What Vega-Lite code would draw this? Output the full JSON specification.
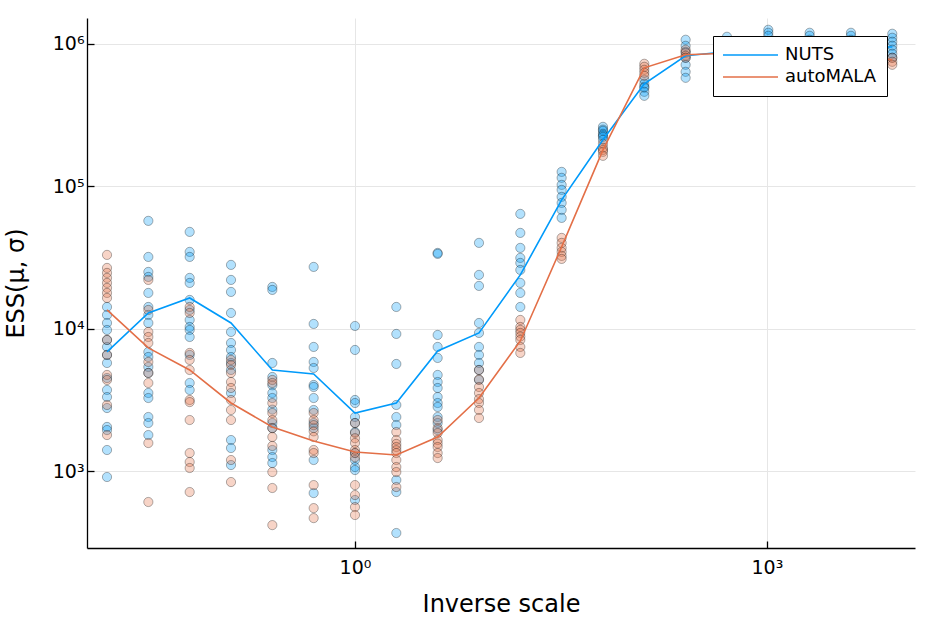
{
  "$schema": "https://vega.github.io/schema/vega-lite/v6.json",
  "autosize": {"type": "none"},
  "padding": {"left": 87, "top": 18, "right": 19, "bottom": 75},
  "width": 828,
  "height": 530,
  "background": "white",
  "config": {
    "view": {"stroke": null},
    "font": "DejaVu Sans",
    "axis": {
      "domainColor": "black",
      "domainWidth": 1.3,
      "tickColor": "black",
      "tickWidth": 1.3,
      "tickSize": -7,
      "gridColor": "#e6e6e6",
      "gridWidth": 1,
      "labelFont": "DejaVu Sans",
      "labelFontSize": 19,
      "labelColor": "black",
      "titleFont": "DejaVu Sans",
      "titleFontSize": 24,
      "titleFontWeight": "normal",
      "titleColor": "black"
    }
  },
  "datasets": {
    "runs": [
      {"scale": 0.015625, "sampler": "NUTS", "ess": 14200}, {"scale": 0.015625, "sampler": "NUTS", "ess": 12480}, {"scale": 0.015625, "sampler": "NUTS", "ess": 10960}, {"scale": 0.015625, "sampler": "NUTS", "ess": 9790}, {"scale": 0.015625, "sampler": "NUTS", "ess": 8330}, {"scale": 0.015625, "sampler": "NUTS", "ess": 7440}, {"scale": 0.015625, "sampler": "NUTS", "ess": 6535}, {"scale": 0.015625, "sampler": "NUTS", "ess": 5740}, {"scale": 0.015625, "sampler": "NUTS", "ess": 4500}, {"scale": 0.015625, "sampler": "NUTS", "ess": 3710}, {"scale": 0.015625, "sampler": "NUTS", "ess": 3310}, {"scale": 0.015625, "sampler": "NUTS", "ess": 2770}, {"scale": 0.015625, "sampler": "NUTS", "ess": 2040}, {"scale": 0.015625, "sampler": "NUTS", "ess": 1940}, {"scale": 0.015625, "sampler": "NUTS", "ess": 1405}, {"scale": 0.015625, "sampler": "NUTS", "ess": 908},
      {"scale": 0.015625, "sampler": "autoMALA", "ess": 32960}, {"scale": 0.015625, "sampler": "autoMALA", "ess": 26700}, {"scale": 0.015625, "sampler": "autoMALA", "ess": 24630}, {"scale": 0.015625, "sampler": "autoMALA", "ess": 22720}, {"scale": 0.015625, "sampler": "autoMALA", "ess": 20950}, {"scale": 0.015625, "sampler": "autoMALA", "ess": 19320}, {"scale": 0.015625, "sampler": "autoMALA", "ess": 17820}, {"scale": 0.015625, "sampler": "autoMALA", "ess": 16430}, {"scale": 0.015625, "sampler": "autoMALA", "ess": 8330}, {"scale": 0.015625, "sampler": "autoMALA", "ess": 6535}, {"scale": 0.015625, "sampler": "autoMALA", "ess": 4730}, {"scale": 0.015625, "sampler": "autoMALA", "ess": 4360}, {"scale": 0.015625, "sampler": "autoMALA", "ess": 2910}, {"scale": 0.015625, "sampler": "autoMALA", "ess": 1790},

      {"scale": 0.03125, "sampler": "NUTS", "ess": 57150}, {"scale": 0.03125, "sampler": "NUTS", "ess": 31900}, {"scale": 0.03125, "sampler": "NUTS", "ess": 25030}, {"scale": 0.03125, "sampler": "NUTS", "ess": 23090}, {"scale": 0.03125, "sampler": "NUTS", "ess": 17820}, {"scale": 0.03125, "sampler": "NUTS", "ess": 14200}, {"scale": 0.03125, "sampler": "NUTS", "ess": 12480}, {"scale": 0.03125, "sampler": "NUTS", "ess": 10960}, {"scale": 0.03125, "sampler": "NUTS", "ess": 6860}, {"scale": 0.03125, "sampler": "NUTS", "ess": 6325}, {"scale": 0.03125, "sampler": "NUTS", "ess": 5380}, {"scale": 0.03125, "sampler": "NUTS", "ess": 4885}, {"scale": 0.03125, "sampler": "NUTS", "ess": 3533}, {"scale": 0.03125, "sampler": "NUTS", "ess": 3258}, {"scale": 0.03125, "sampler": "NUTS", "ess": 2396}, {"scale": 0.03125, "sampler": "NUTS", "ess": 2174}, {"scale": 0.03125, "sampler": "NUTS", "ess": 1790},
      {"scale": 0.03125, "sampler": "autoMALA", "ess": 21990}, {"scale": 0.03125, "sampler": "autoMALA", "ess": 13530}, {"scale": 0.03125, "sampler": "autoMALA", "ess": 9480}, {"scale": 0.03125, "sampler": "autoMALA", "ess": 8740}, {"scale": 0.03125, "sampler": "autoMALA", "ess": 7935}, {"scale": 0.03125, "sampler": "autoMALA", "ess": 5835}, {"scale": 0.03125, "sampler": "autoMALA", "ess": 4885}, {"scale": 0.03125, "sampler": "autoMALA", "ess": 4153}, {"scale": 0.03125, "sampler": "autoMALA", "ess": 1573}, {"scale": 0.03125, "sampler": "autoMALA", "ess": 606},

      {"scale": 0.0625, "sampler": "NUTS", "ess": 47820}, {"scale": 0.0625, "sampler": "NUTS", "ess": 34600}, {"scale": 0.0625, "sampler": "NUTS", "ess": 31900}, {"scale": 0.0625, "sampler": "NUTS", "ess": 22720}, {"scale": 0.0625, "sampler": "NUTS", "ess": 20950}, {"scale": 0.0625, "sampler": "NUTS", "ess": 15910}, {"scale": 0.0625, "sampler": "NUTS", "ess": 13530}, {"scale": 0.0625, "sampler": "NUTS", "ess": 11510}, {"scale": 0.0625, "sampler": "NUTS", "ess": 10280}, {"scale": 0.0625, "sampler": "NUTS", "ess": 9790}, {"scale": 0.0625, "sampler": "NUTS", "ess": 8740}, {"scale": 0.0625, "sampler": "NUTS", "ess": 6535}, {"scale": 0.0625, "sampler": "NUTS", "ess": 4153}, {"scale": 0.0625, "sampler": "NUTS", "ess": 3710},
      {"scale": 0.0625, "sampler": "autoMALA", "ess": 14200}, {"scale": 0.0625, "sampler": "autoMALA", "ess": 12890}, {"scale": 0.0625, "sampler": "autoMALA", "ess": 6750}, {"scale": 0.0625, "sampler": "autoMALA", "ess": 6030}, {"scale": 0.0625, "sampler": "autoMALA", "ess": 5125}, {"scale": 0.0625, "sampler": "autoMALA", "ess": 3155}, {"scale": 0.0625, "sampler": "autoMALA", "ess": 3050}, {"scale": 0.0625, "sampler": "autoMALA", "ess": 2282}, {"scale": 0.0625, "sampler": "autoMALA", "ess": 1338}, {"scale": 0.0625, "sampler": "autoMALA", "ess": 1157}, {"scale": 0.0625, "sampler": "autoMALA", "ess": 1050}, {"scale": 0.0625, "sampler": "autoMALA", "ess": 712},

      {"scale": 0.125, "sampler": "NUTS", "ess": 28040}, {"scale": 0.125, "sampler": "NUTS", "ess": 21990}, {"scale": 0.125, "sampler": "NUTS", "ess": 18110}, {"scale": 0.125, "sampler": "NUTS", "ess": 12890}, {"scale": 0.125, "sampler": "NUTS", "ess": 9480}, {"scale": 0.125, "sampler": "NUTS", "ess": 7935}, {"scale": 0.125, "sampler": "NUTS", "ess": 7085}, {"scale": 0.125, "sampler": "NUTS", "ess": 6325}, {"scale": 0.125, "sampler": "NUTS", "ess": 5740}, {"scale": 0.125, "sampler": "NUTS", "ess": 5125}, {"scale": 0.125, "sampler": "NUTS", "ess": 3533}, {"scale": 0.125, "sampler": "NUTS", "ess": 1651}, {"scale": 0.125, "sampler": "NUTS", "ess": 1451}, {"scale": 0.125, "sampler": "NUTS", "ess": 1102},
      {"scale": 0.125, "sampler": "autoMALA", "ess": 6030}, {"scale": 0.125, "sampler": "autoMALA", "ess": 5557}, {"scale": 0.125, "sampler": "autoMALA", "ess": 4885}, {"scale": 0.125, "sampler": "autoMALA", "ess": 4220}, {"scale": 0.125, "sampler": "autoMALA", "ess": 3831}, {"scale": 0.125, "sampler": "autoMALA", "ess": 3155}, {"scale": 0.125, "sampler": "autoMALA", "ess": 2683}, {"scale": 0.125, "sampler": "autoMALA", "ess": 2282}, {"scale": 0.125, "sampler": "autoMALA", "ess": 1195}, {"scale": 0.125, "sampler": "autoMALA", "ess": 837},

      {"scale": 0.25, "sampler": "NUTS", "ess": 19630}, {"scale": 0.25, "sampler": "NUTS", "ess": 18710}, {"scale": 0.25, "sampler": "NUTS", "ess": 5740}, {"scale": 0.25, "sampler": "NUTS", "ess": 4577}, {"scale": 0.25, "sampler": "NUTS", "ess": 4000}, {"scale": 0.25, "sampler": "NUTS", "ess": 3533}, {"scale": 0.25, "sampler": "NUTS", "ess": 3258}, {"scale": 0.25, "sampler": "NUTS", "ess": 2700}, {"scale": 0.25, "sampler": "NUTS", "ess": 2174}, {"scale": 0.25, "sampler": "NUTS", "ess": 2005}, {"scale": 0.25, "sampler": "NUTS", "ess": 1405}, {"scale": 0.25, "sampler": "NUTS", "ess": 1254}, {"scale": 0.25, "sampler": "NUTS", "ess": 1138},
      {"scale": 0.25, "sampler": "autoMALA", "ess": 4360}, {"scale": 0.25, "sampler": "autoMALA", "ess": 4153}, {"scale": 0.25, "sampler": "autoMALA", "ess": 3000}, {"scale": 0.25, "sampler": "autoMALA", "ess": 2556}, {"scale": 0.25, "sampler": "autoMALA", "ess": 2282}, {"scale": 0.25, "sampler": "autoMALA", "ess": 2000}, {"scale": 0.25, "sampler": "autoMALA", "ess": 1734}, {"scale": 0.25, "sampler": "autoMALA", "ess": 1500}, {"scale": 0.25, "sampler": "autoMALA", "ess": 984}, {"scale": 0.25, "sampler": "autoMALA", "ess": 760}, {"scale": 0.25, "sampler": "autoMALA", "ess": 417},

      {"scale": 0.5, "sampler": "NUTS", "ess": 27140}, {"scale": 0.5, "sampler": "NUTS", "ess": 10790}, {"scale": 0.5, "sampler": "NUTS", "ess": 7440}, {"scale": 0.5, "sampler": "NUTS", "ess": 5835}, {"scale": 0.5, "sampler": "NUTS", "ess": 5293}, {"scale": 0.5, "sampler": "NUTS", "ess": 4022}, {"scale": 0.5, "sampler": "NUTS", "ess": 3893}, {"scale": 0.5, "sampler": "NUTS", "ess": 3258}, {"scale": 0.5, "sampler": "NUTS", "ess": 2683}, {"scale": 0.5, "sampler": "NUTS", "ess": 2174}, {"scale": 0.5, "sampler": "NUTS", "ess": 2005}, {"scale": 0.5, "sampler": "NUTS", "ess": 1195}, {"scale": 0.5, "sampler": "NUTS", "ess": 700},
      {"scale": 0.5, "sampler": "autoMALA", "ess": 2556}, {"scale": 0.5, "sampler": "autoMALA", "ess": 2282}, {"scale": 0.5, "sampler": "autoMALA", "ess": 2100}, {"scale": 0.5, "sampler": "autoMALA", "ess": 1900}, {"scale": 0.5, "sampler": "autoMALA", "ess": 1734}, {"scale": 0.5, "sampler": "autoMALA", "ess": 1405}, {"scale": 0.5, "sampler": "autoMALA", "ess": 1338}, {"scale": 0.5, "sampler": "autoMALA", "ess": 797}, {"scale": 0.5, "sampler": "autoMALA", "ess": 549}, {"scale": 0.5, "sampler": "autoMALA", "ess": 467},

      {"scale": 1, "sampler": "NUTS", "ess": 10440}, {"scale": 1, "sampler": "NUTS", "ess": 7085}, {"scale": 1, "sampler": "NUTS", "ess": 3155}, {"scale": 1, "sampler": "NUTS", "ess": 3005}, {"scale": 1, "sampler": "NUTS", "ess": 2396}, {"scale": 1, "sampler": "NUTS", "ess": 2174}, {"scale": 1, "sampler": "NUTS", "ess": 1879}, {"scale": 1, "sampler": "NUTS", "ess": 1338}, {"scale": 1, "sampler": "NUTS", "ess": 1195}, {"scale": 1, "sampler": "NUTS", "ess": 1067}, {"scale": 1, "sampler": "NUTS", "ess": 1016}, {"scale": 1, "sampler": "NUTS", "ess": 626},
      {"scale": 1, "sampler": "autoMALA", "ess": 2174}, {"scale": 1, "sampler": "autoMALA", "ess": 1849}, {"scale": 1, "sampler": "autoMALA", "ess": 1700}, {"scale": 1, "sampler": "autoMALA", "ess": 1573}, {"scale": 1, "sampler": "autoMALA", "ess": 1405}, {"scale": 1, "sampler": "autoMALA", "ess": 1338}, {"scale": 1, "sampler": "autoMALA", "ess": 1250}, {"scale": 1, "sampler": "autoMALA", "ess": 797}, {"scale": 1, "sampler": "autoMALA", "ess": 678}, {"scale": 1, "sampler": "autoMALA", "ess": 558}, {"scale": 1, "sampler": "autoMALA", "ess": 491},

      {"scale": 2, "sampler": "NUTS", "ess": 14200}, {"scale": 2, "sampler": "NUTS", "ess": 9180}, {"scale": 2, "sampler": "NUTS", "ess": 5648}, {"scale": 2, "sampler": "NUTS", "ess": 2910}, {"scale": 2, "sampler": "NUTS", "ess": 2396}, {"scale": 2, "sampler": "NUTS", "ess": 2105}, {"scale": 2, "sampler": "NUTS", "ess": 865}, {"scale": 2, "sampler": "NUTS", "ess": 712}, {"scale": 2, "sampler": "NUTS", "ess": 367},
      {"scale": 2, "sampler": "autoMALA", "ess": 1879}, {"scale": 2, "sampler": "autoMALA", "ess": 1651}, {"scale": 2, "sampler": "autoMALA", "ess": 1550}, {"scale": 2, "sampler": "autoMALA", "ess": 1475}, {"scale": 2, "sampler": "autoMALA", "ess": 1400}, {"scale": 2, "sampler": "autoMALA", "ess": 1338}, {"scale": 2, "sampler": "autoMALA", "ess": 1195}, {"scale": 2, "sampler": "autoMALA", "ess": 1067}, {"scale": 2, "sampler": "autoMALA", "ess": 984}, {"scale": 2, "sampler": "autoMALA", "ess": 772},

      {"scale": 4, "sampler": "NUTS", "ess": 34040}, {"scale": 4, "sampler": "NUTS", "ess": 33500}, {"scale": 4, "sampler": "NUTS", "ess": 9030}, {"scale": 4, "sampler": "NUTS", "ess": 7440}, {"scale": 4, "sampler": "NUTS", "ess": 6225}, {"scale": 4, "sampler": "NUTS", "ess": 4730}, {"scale": 4, "sampler": "NUTS", "ess": 4220}, {"scale": 4, "sampler": "NUTS", "ess": 3831}, {"scale": 4, "sampler": "NUTS", "ess": 3310}, {"scale": 4, "sampler": "NUTS", "ess": 3005}, {"scale": 4, "sampler": "NUTS", "ess": 2818}, {"scale": 4, "sampler": "NUTS", "ess": 2396}, {"scale": 4, "sampler": "NUTS", "ess": 2174}, {"scale": 4, "sampler": "NUTS", "ess": 1940},
      {"scale": 4, "sampler": "autoMALA", "ess": 2282}, {"scale": 4, "sampler": "autoMALA", "ess": 2000}, {"scale": 4, "sampler": "autoMALA", "ess": 1849}, {"scale": 4, "sampler": "autoMALA", "ess": 1651}, {"scale": 4, "sampler": "autoMALA", "ess": 1560}, {"scale": 4, "sampler": "autoMALA", "ess": 1475}, {"scale": 4, "sampler": "autoMALA", "ess": 1338}, {"scale": 4, "sampler": "autoMALA", "ess": 1234},

      {"scale": 8, "sampler": "NUTS", "ess": 40030}, {"scale": 8, "sampler": "NUTS", "ess": 23850}, {"scale": 8, "sampler": "NUTS", "ess": 19960}, {"scale": 8, "sampler": "NUTS", "ess": 10960}, {"scale": 8, "sampler": "NUTS", "ess": 9330}, {"scale": 8, "sampler": "NUTS", "ess": 7440}, {"scale": 8, "sampler": "NUTS", "ess": 6535}, {"scale": 8, "sampler": "NUTS", "ess": 5740}, {"scale": 8, "sampler": "NUTS", "ess": 5125}, {"scale": 8, "sampler": "NUTS", "ess": 4360},
      {"scale": 8, "sampler": "autoMALA", "ess": 5125}, {"scale": 8, "sampler": "autoMALA", "ess": 4400}, {"scale": 8, "sampler": "autoMALA", "ess": 3893}, {"scale": 8, "sampler": "autoMALA", "ess": 3533}, {"scale": 8, "sampler": "autoMALA", "ess": 3200}, {"scale": 8, "sampler": "autoMALA", "ess": 3005}, {"scale": 8, "sampler": "autoMALA", "ess": 2683}, {"scale": 8, "sampler": "autoMALA", "ess": 2357},

      {"scale": 16, "sampler": "NUTS", "ess": 63970}, {"scale": 16, "sampler": "NUTS", "ess": 47050}, {"scale": 16, "sampler": "NUTS", "ess": 36920}, {"scale": 16, "sampler": "NUTS", "ess": 31400}, {"scale": 16, "sampler": "NUTS", "ess": 28950}, {"scale": 16, "sampler": "NUTS", "ess": 25850}, {"scale": 16, "sampler": "NUTS", "ess": 20950}, {"scale": 16, "sampler": "NUTS", "ess": 17820}, {"scale": 16, "sampler": "NUTS", "ess": 14200},
      {"scale": 16, "sampler": "autoMALA", "ess": 11510}, {"scale": 16, "sampler": "autoMALA", "ess": 10280}, {"scale": 16, "sampler": "autoMALA", "ess": 9800}, {"scale": 16, "sampler": "autoMALA", "ess": 9330}, {"scale": 16, "sampler": "autoMALA", "ess": 8800}, {"scale": 16, "sampler": "autoMALA", "ess": 8330}, {"scale": 16, "sampler": "autoMALA", "ess": 7440}, {"scale": 16, "sampler": "autoMALA", "ess": 6750},

      {"scale": 32, "sampler": "NUTS", "ess": 126200}, {"scale": 32, "sampler": "NUTS", "ess": 114600}, {"scale": 32, "sampler": "NUTS", "ess": 102300}, {"scale": 32, "sampler": "NUTS", "ess": 94350}, {"scale": 32, "sampler": "NUTS", "ess": 84240}, {"scale": 32, "sampler": "NUTS", "ess": 76430}, {"scale": 32, "sampler": "NUTS", "ess": 68270}, {"scale": 32, "sampler": "NUTS", "ess": 59980},
      {"scale": 32, "sampler": "autoMALA", "ess": 43390}, {"scale": 32, "sampler": "autoMALA", "ess": 40030}, {"scale": 32, "sampler": "autoMALA", "ess": 36920}, {"scale": 32, "sampler": "autoMALA", "ess": 34600}, {"scale": 32, "sampler": "autoMALA", "ess": 32430}, {"scale": 32, "sampler": "autoMALA", "ess": 30890},

      {"scale": 64, "sampler": "NUTS", "ess": 261500}, {"scale": 64, "sampler": "NUTS", "ess": 250000}, {"scale": 64, "sampler": "NUTS", "ess": 245100}, {"scale": 64, "sampler": "NUTS", "ess": 233500}, {"scale": 64, "sampler": "NUTS", "ess": 228000}, {"scale": 64, "sampler": "NUTS", "ess": 222500}, {"scale": 64, "sampler": "NUTS", "ess": 211900},
      {"scale": 64, "sampler": "autoMALA", "ess": 198600}, {"scale": 64, "sampler": "autoMALA", "ess": 186200}, {"scale": 64, "sampler": "autoMALA", "ess": 180000}, {"scale": 64, "sampler": "autoMALA", "ess": 174500}, {"scale": 64, "sampler": "autoMALA", "ess": 163600},

      {"scale": 128, "sampler": "NUTS", "ess": 559500}, {"scale": 128, "sampler": "NUTS", "ess": 524300}, {"scale": 128, "sampler": "NUTS", "ess": 500000}, {"scale": 128, "sampler": "NUTS", "ess": 491400}, {"scale": 128, "sampler": "NUTS", "ess": 460600}, {"scale": 128, "sampler": "NUTS", "ess": 431800},
      {"scale": 128, "sampler": "autoMALA", "ess": 724800}, {"scale": 128, "sampler": "autoMALA", "ess": 690400}, {"scale": 128, "sampler": "autoMALA", "ess": 657700}, {"scale": 128, "sampler": "autoMALA", "ess": 626500}, {"scale": 128, "sampler": "autoMALA", "ess": 596800},

      {"scale": 256, "sampler": "NUTS", "ess": 1069000}, {"scale": 256, "sampler": "NUTS", "ess": 969600}, {"scale": 256, "sampler": "NUTS", "ess": 880100}, {"scale": 256, "sampler": "NUTS", "ess": 798800}, {"scale": 256, "sampler": "NUTS", "ess": 713300}, {"scale": 256, "sampler": "NUTS", "ess": 636800}, {"scale": 256, "sampler": "NUTS", "ess": 577900},
      {"scale": 256, "sampler": "autoMALA", "ess": 908900}, {"scale": 256, "sampler": "autoMALA", "ess": 865700}, {"scale": 256, "sampler": "autoMALA", "ess": 825000}, {"scale": 256, "sampler": "autoMALA", "ess": 798800},

      {"scale": 512, "sampler": "NUTS", "ess": 1122000}, {"scale": 512, "sampler": "NUTS", "ess": 1035000}, {"scale": 512, "sampler": "NUTS", "ess": 954300}, {"scale": 512, "sampler": "NUTS", "ess": 880100},
      {"scale": 512, "sampler": "autoMALA", "ess": 880100}, {"scale": 512, "sampler": "autoMALA", "ess": 838200}, {"scale": 512, "sampler": "autoMALA", "ess": 798800},

      {"scale": 1024, "sampler": "NUTS", "ess": 1256000}, {"scale": 1024, "sampler": "NUTS", "ess": 1197000}, {"scale": 1024, "sampler": "NUTS", "ess": 1140000}, {"scale": 1024, "sampler": "NUTS", "ess": 1035000},
      {"scale": 1024, "sampler": "autoMALA", "ess": 938800}, {"scale": 1024, "sampler": "autoMALA", "ess": 880100}, {"scale": 1024, "sampler": "autoMALA", "ess": 838200},

      {"scale": 2048, "sampler": "NUTS", "ess": 1197000}, {"scale": 2048, "sampler": "NUTS", "ess": 1140000}, {"scale": 2048, "sampler": "NUTS", "ess": 1069000}, {"scale": 2048, "sampler": "NUTS", "ess": 985600},
      {"scale": 2048, "sampler": "autoMALA", "ess": 908900}, {"scale": 2048, "sampler": "autoMALA", "ess": 851800},

      {"scale": 4096, "sampler": "NUTS", "ess": 1197000}, {"scale": 4096, "sampler": "NUTS", "ess": 1140000}, {"scale": 4096, "sampler": "NUTS", "ess": 1069000}, {"scale": 4096, "sampler": "NUTS", "ess": 969600},
      {"scale": 4096, "sampler": "autoMALA", "ess": 908900}, {"scale": 4096, "sampler": "autoMALA", "ess": 838200},

      {"scale": 8192, "sampler": "NUTS", "ess": 1178000}, {"scale": 8192, "sampler": "NUTS", "ess": 1104000}, {"scale": 8192, "sampler": "NUTS", "ess": 1035000}, {"scale": 8192, "sampler": "NUTS", "ess": 969600}, {"scale": 8192, "sampler": "NUTS", "ess": 908900}, {"scale": 8192, "sampler": "NUTS", "ess": 851800}, {"scale": 8192, "sampler": "NUTS", "ess": 798800},
      {"scale": 8192, "sampler": "autoMALA", "ess": 798800}, {"scale": 8192, "sampler": "autoMALA", "ess": 748500}, {"scale": 8192, "sampler": "autoMALA", "ess": 713300}
    ],
    "summary": [
      {"scale": 0.015625, "sampler": "NUTS", "ess": 6860}, {"scale": 0.03125, "sampler": "NUTS", "ess": 12890}, {"scale": 0.0625, "sampler": "NUTS", "ess": 16430}, {"scale": 0.125, "sampler": "NUTS", "ess": 10960}, {"scale": 0.25, "sampler": "NUTS", "ess": 5125}, {"scale": 0.5, "sampler": "NUTS", "ess": 4805}, {"scale": 1, "sampler": "NUTS", "ess": 2556}, {"scale": 2, "sampler": "NUTS", "ess": 3005}, {"scale": 4, "sampler": "NUTS", "ess": 6970}, {"scale": 8, "sampler": "NUTS", "ess": 9330}, {"scale": 16, "sampler": "NUTS", "ess": 23850}, {"scale": 32, "sampler": "NUTS", "ess": 80240}, {"scale": 64, "sampler": "NUTS", "ess": 211900}, {"scale": 128, "sampler": "NUTS", "ess": 524300}, {"scale": 256, "sampler": "NUTS", "ess": 825000}, {"scale": 512, "sampler": "NUTS", "ess": 880100}, {"scale": 1024, "sampler": "NUTS", "ess": 920000}, {"scale": 2048, "sampler": "NUTS", "ess": 940000}, {"scale": 4096, "sampler": "NUTS", "ess": 950000}, {"scale": 8192, "sampler": "NUTS", "ess": 950000},
      {"scale": 0.015625, "sampler": "autoMALA", "ess": 13530}, {"scale": 0.03125, "sampler": "autoMALA", "ess": 7318}, {"scale": 0.0625, "sampler": "autoMALA", "ess": 5125}, {"scale": 0.125, "sampler": "autoMALA", "ess": 3005}, {"scale": 0.25, "sampler": "autoMALA", "ess": 2040}, {"scale": 0.5, "sampler": "autoMALA", "ess": 1625}, {"scale": 1, "sampler": "autoMALA", "ess": 1360}, {"scale": 2, "sampler": "autoMALA", "ess": 1296}, {"scale": 4, "sampler": "autoMALA", "ess": 1734}, {"scale": 8, "sampler": "autoMALA", "ess": 3258}, {"scale": 16, "sampler": "autoMALA", "ess": 8196}, {"scale": 32, "sampler": "autoMALA", "ess": 37520}, {"scale": 64, "sampler": "autoMALA", "ess": 180300}, {"scale": 128, "sampler": "autoMALA", "ess": 679200}, {"scale": 256, "sampler": "autoMALA", "ess": 838200}, {"scale": 512, "sampler": "autoMALA", "ess": 860000}, {"scale": 1024, "sampler": "autoMALA", "ess": 870000}, {"scale": 2048, "sampler": "autoMALA", "ess": 870000}, {"scale": 4096, "sampler": "autoMALA", "ess": 865000}, {"scale": 8192, "sampler": "autoMALA", "ess": 770000}
    ]
  },
  "encoding": {
    "x": {
      "field": "scale",
      "type": "quantitative",
      "scale": {"type": "log", "domain": [0.01117, 11990], "nice": false},
      "axis": {
        "title": "Inverse scale",
        "values": [1, 1000],
        "labelExpr": "datum.value < 10 ? '10⁰' : '10³'",
        "labelPadding": 17,
        "titlePadding": 15,
        "grid": true
      }
    },
    "y": {
      "field": "ess",
      "type": "quantitative",
      "scale": {"type": "log", "domain": [288, 1520000], "nice": false},
      "axis": {
        "title": "ESS(μ, σ)",
        "values": [1000, 10000, 100000, 1000000],
        "labelExpr": "'10' + (datum.value > 500000 ? '⁶' : datum.value > 50000 ? '⁵' : datum.value > 5000 ? '⁴' : '³')",
        "labelPadding": 10,
        "titlePadding": 24,
        "grid": true
      }
    },
    "color": {
      "field": "sampler",
      "type": "nominal",
      "scale": {"domain": ["NUTS", "autoMALA"], "range": ["#009AFA", "#E36F47"]}
    }
  },
  "layer": [
    {
      "data": {"name": "runs"},
      "mark": {"type": "point", "shape": "circle", "filled": true, "size": 85, "fillOpacity": 0.3, "stroke": "black", "strokeOpacity": 0.3, "strokeWidth": 1},
      "encoding": {
        "color": {"field": "sampler", "type": "nominal", "legend": null}
      }
    },
    {
      "data": {"name": "summary"},
      "mark": {"type": "line", "strokeWidth": 1.6},
      "encoding": {
        "color": {
          "field": "sampler",
          "type": "nominal",
          "legend": {
            "title": null,
            "orient": "none",
            "legendX": 626,
            "legendY": 18,
            "symbolType": "M-5.5,0H5.5",
            "symbolSize": 100,
            "symbolStrokeWidth": 1.6,
            "labelFont": "DejaVu Sans",
            "labelFontSize": 18,
            "labelColor": "black",
            "labelOffset": 44,
            "rowPadding": 4,
            "padding": 10,
            "strokeColor": "black",
            "fillColor": "white",
            "encode": {
              "symbols": {"update": {"x": {"value": 27.5}}}
            }
          }
        }
      }
    }
  ],
  "resolve": {"legend": {"color": "independent"}}
}
